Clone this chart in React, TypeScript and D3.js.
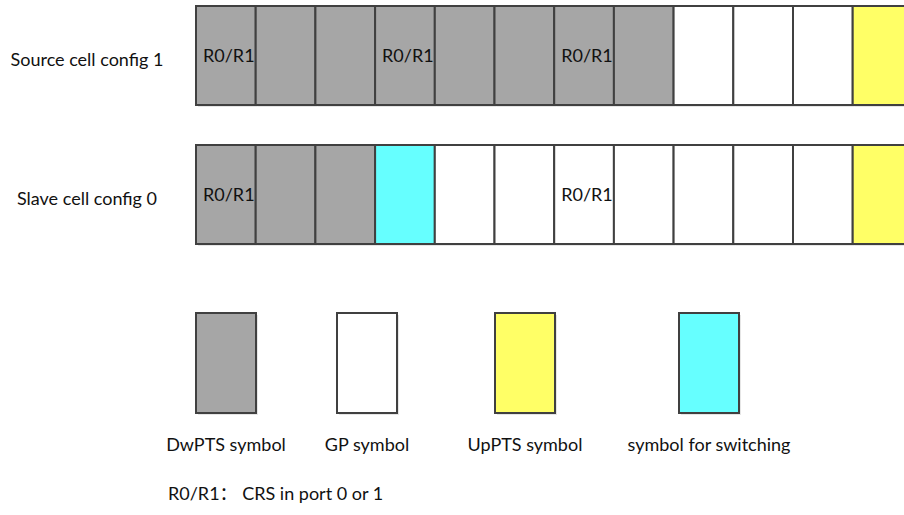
import { useEffect, useRef } from 'react';
import * as d3 from 'd3';

// symbol types for each of the 12 visible symbols in the special subframe
const rows = ['Source cell config 1', 'Slave cell config 0'];
const sourceSymbols = ['DwPTS', 'DwPTS', 'DwPTS', 'DwPTS', 'DwPTS', 'DwPTS', 'DwPTS', 'DwPTS', 'GP', 'GP', 'GP', 'UpPTS'];
const slaveSymbols = ['DwPTS', 'DwPTS', 'DwPTS', 'Switch', 'GP', 'GP', 'GP', 'GP', 'GP', 'GP', 'GP', 'UpPTS'];
// symbol indices carrying CRS (R0/R1)
const sourceCrs = [0, 3, 6];
const slaveCrs = [0, 6];

const legendTypes = ['DwPTS', 'GP', 'UpPTS', 'Switch'];
const legendLabels = ['DwPTS symbol', 'GP symbol', 'UpPTS symbol', 'symbol for switching'];
const crsLabel = 'R0/R1';
const footnote = 'R0/R1\uFF1A CRS in port 0 or 1';

const colors: Record<string, string> = {
  DwPTS: '#a6a6a6',
  GP: '#ffffff',
  UpPTS: '#ffff66',
  Switch: '#66ffff',
};

const App = () => {
  const ref = useRef<SVGSVGElement>(null);

  useEffect(() => {
    const width = 904;
    const height = 515;
    const font = "Lato, 'Noto Sans CJK SC', sans-serif";
    const stroke = '#404040';

    const svg = d3.select(ref.current);
    svg.selectAll('*').remove();
    svg.attr('width', width).attr('height', height);

    const x = d3
      .scaleBand<number>()
      .domain(d3.range(sourceSymbols.length))
      .range([196, 196 + 59.7 * sourceSymbols.length])
      .padding(0);

    const y = d3
      .scaleBand()
      .domain(rows)
      .range([6, 244])
      .paddingInner(40 / 139)
      .paddingOuter(0);

    const data = [
      { row: rows[0], symbols: sourceSymbols, crs: sourceCrs },
      { row: rows[1], symbols: slaveSymbols, crs: slaveCrs },
    ];

    data.forEach((d) => {
      const g = svg.append('g');
      const y0 = y(d.row)!;
      const cells = d.symbols.map((type, i) => ({ type, i }));

      // faint shadow
      g.selectAll('rect.shadow')
        .data(cells)
        .join('rect')
        .attr('class', 'shadow')
        .attr('x', (c) => x(c.i)! + 2)
        .attr('y', y0 + 2)
        .attr('width', x.bandwidth())
        .attr('height', y.bandwidth())
        .attr('fill', '#e6e6e6');

      g.selectAll('rect.cell')
        .data(cells)
        .join('rect')
        .attr('class', 'cell')
        .attr('x', (c) => x(c.i)!)
        .attr('y', y0)
        .attr('width', x.bandwidth())
        .attr('height', y.bandwidth())
        .attr('fill', (c) => colors[c.type])
        .attr('stroke', stroke)
        .attr('stroke-width', 2);

      g.selectAll('text.crs')
        .data(d.crs)
        .join('text')
        .attr('class', 'crs')
        .attr('x', (i) => x(i)! + 7)
        .attr('y', y0 + y.bandwidth() / 2 + 6.5)
        .attr('font-family', font)
        .attr('font-size', 18)
        .attr('fill', '#111')
        .text(crsLabel);

      svg
        .append('text')
        .attr('x', 87)
        .attr('y', y0 + y.bandwidth() / 2 + 10)
        .attr('text-anchor', 'middle')
        .attr('font-family', font)
        .attr('font-size', 18)
        .attr('fill', '#111')
        .text(d.row);
    });

    // legend
    const legendCenters = [226, 367, 525, 709];
    const legend = svg
      .append('g')
      .selectAll('g')
      .data(legendTypes)
      .join('g')
      .attr('transform', (_, i) => `translate(${legendCenters[i]},0)`);

    legend
      .append('rect')
      .attr('x', -30 + 2)
      .attr('y', 313 + 2)
      .attr('width', 60)
      .attr('height', 100)
      .attr('fill', '#e6e6e6');

    legend
      .append('rect')
      .attr('x', -30)
      .attr('y', 313)
      .attr('width', 60)
      .attr('height', 100)
      .attr('fill', (t) => colors[t])
      .attr('stroke', stroke)
      .attr('stroke-width', 2);

    legend
      .append('text')
      .attr('y', 451)
      .attr('text-anchor', 'middle')
      .attr('font-family', font)
      .attr('font-size', 18)
      .attr('fill', '#111')
      .text((_, i) => legendLabels[i]);

    svg
      .append('text')
      .attr('x', 168)
      .attr('y', 500)
      .attr('font-family', font)
      .attr('font-size', 18)
      .attr('fill', '#111')
      .text(footnote);
  }, []);

  return (
    <svg
      ref={ref}
      style={{ position: 'absolute', left: 0, top: 0, background: '#fff' }}
    />
  );
};

export default App;
